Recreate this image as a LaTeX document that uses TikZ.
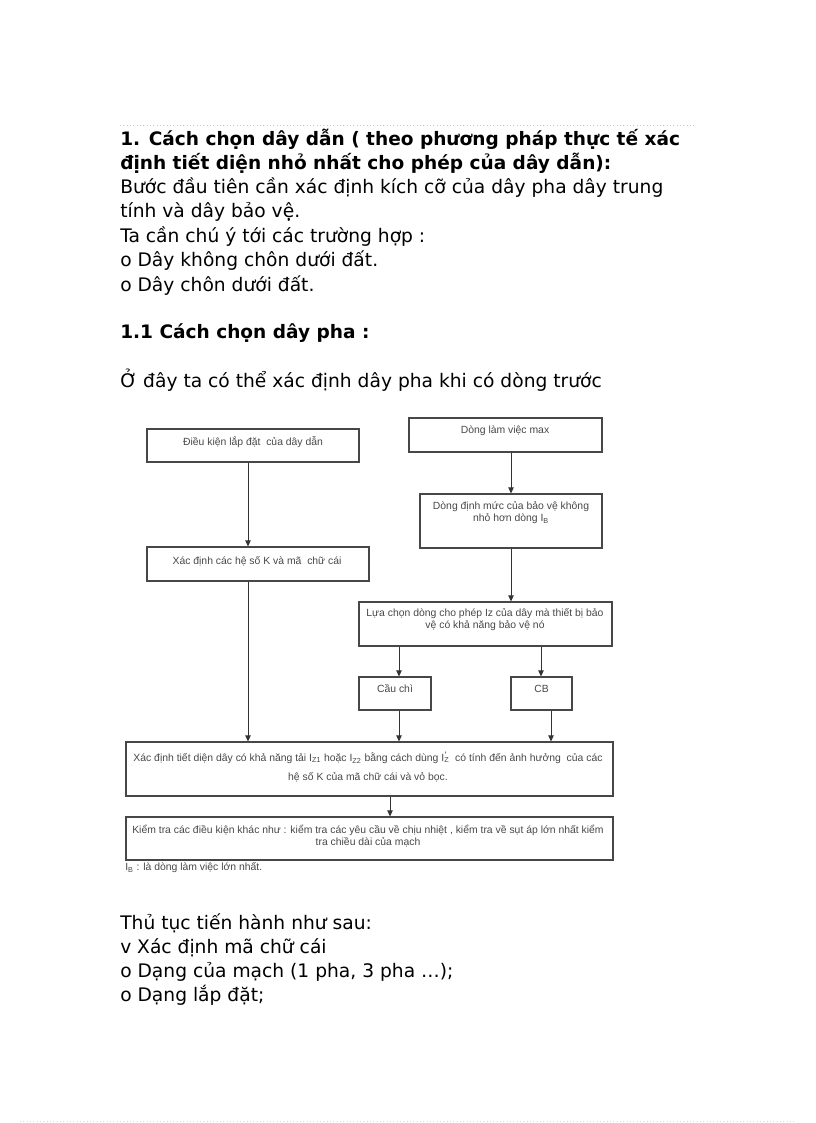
\documentclass[tikz,border=0pt]{standalone}
\usepackage{fontspec}
\setmainfont{DejaVu Sans}
\newfontfamily\dfont{Liberation Sans}
\usetikzlibrary{arrows.meta}
\begin{document}
\begin{tikzpicture}[x=0.75pt,y=-0.75pt,
  body/.style={anchor=base west,inner sep=0pt,font=\fontsize{14}{18}\selectfont},
  head/.style={anchor=base west,inner sep=0pt,font=\fontsize{13.9}{18}\selectfont\bfseries},
  box/.style={draw=black!72,line width=0.8pt,inner sep=0pt},
  dtext/.style={font=\dfont\fontsize{7.8}{9}\selectfont,text=black!72,align=center,inner sep=0pt},
  arr/.style={draw=black!80,line width=0.75pt,-{Triangle[length=4.5pt,width=4pt]}},
  rule/.style={draw=black!22,dotted,line width=0.5pt}
]
\useasboundingbox (0,0) rectangle (816,1123);
\draw[rule] (120,125) -- (695,125);
\draw[rule,draw=black!15] (20,1121) -- (795,1121);

% text above
\node[head] (t1) at (120,146) {1. Cách chọn dây dẫn ( theo phương pháp thực tế xác};
\node[head] (t2) at (120,170) {định tiết diện nhỏ nhất cho phép của dây dẫn):};
\node[body] (t3) at (120,194) {Bước đầu tiên cần xác định kích cỡ của dây pha dây trung};
\node[body] (t4) at (120,218) {tính và dây bảo vệ.};
\node[body] (t5) at (120,243) {Ta cần chú ý tới các trường hợp :};
\node[body] (t6) at (120,267) {o Dây không chôn dưới đất.};
\node[body] (t7) at (120,291) {o Dây chôn dưới đất.};
\node[head] (t8) at (120,338) {1.1 Cách chọn dây pha :};
\node[body] (t9) at (120,387) {Ở đây ta có thể xác định dây pha khi có dòng trước};

% diagram boxes
\node[box,minimum width=159pt,minimum height=24.75pt] (b1) at (253,445.5) {};
\node[dtext] (b1t) at (253,442) {Điều kiện lắp đặt\ \ của dây dẫn};
\node[box,minimum width=144.75pt,minimum height=25.5pt] (b2) at (505.5,435) {};
\node[dtext] (b2t) at (505,431) {Dòng làm việc max};
\node[box,minimum width=136.5pt,minimum height=40.5pt] (b3) at (511,521) {};
\node[dtext] (b3t) at (511,513) {Dòng định mức của bảo vệ không\\nhỏ hơn dòng I\textsubscript{B}};
\node[box,minimum width=166.5pt,minimum height=25.5pt] (b4) at (258,564) {};
\node[dtext] (b4t) at (257,561) {Xác định các hệ số K và mã\ \ chữ cái};
\node[box,minimum width=189.75pt,minimum height=33pt] (b5) at (485.5,624) {};
\node[dtext] (b5t) at (485,620) {Lựa chọn dòng cho phép Iz của dây mà thiết bị bảo\\vệ có khả năng bảo vệ nó};
\node[box,minimum width=54pt,minimum height=24.75pt] (cc) at (395,693.5) {};
\node[dtext] (cct) at (395,689) {Cầu chì};
\node[box,minimum width=45.75pt,minimum height=24.75pt] (cb) at (541.5,693.5) {};
\node[dtext] (cbt) at (541.5,689) {CB};
\node[box,minimum width=365.25pt,minimum height=40.5pt] (b6) at (369.5,769) {};
\node[dtext,font=\dfont\fontsize{7.8}{14}\selectfont] (b6t) at (368,767) {Xác định tiết diện dây có khả năng tải I\textsubscript{Z1} hoặc I\textsubscript{Z2} bằng cách dùng I\rlap{\raisebox{0.55ex}{\fontsize{7}{7}\selectfont\kern0.5pt'}}\textsubscript{Z}\ \ có tính đến ảnh hưởng\ \ của các\\hệ số K của mã chữ cái và vỏ bọc.};
\node[box,minimum width=365.25pt,minimum height=32.25pt] (b7) at (369.5,838.5) {};
\node[dtext] (b7t) at (368,836) {Kiểm tra các điều kiện khác như : kiểm tra các yêu cầu về chịu nhiệt , kiểm tra về sụt áp lớn nhất kiểm\\tra chiều dài của mạch};
\node[dtext,anchor=west] (fn) at (125,868) {I\textsubscript{B} : là dòng làm việc lớn nhất.};

% arrow columns
\coordinate (cL) at (248,0);
\coordinate (cR) at (511,0);
\coordinate (cC) at (399,0);
\coordinate (cB) at (541,0);
\coordinate (cB2) at (551,0);
\coordinate (cM) at (390,0);
\draw[arr] (b1.south -| cL) -- (b4.north -| cL);
\draw[arr] (b4.south -| cL) -- (b6.north -| cL);
\draw[arr] (b2.south -| cR) -- (b3.north -| cR);
\draw[arr] (b3.south -| cR) -- (b5.north -| cR);
\draw[arr] (b5.south -| cC) -- (cc.north -| cC);
\draw[arr] (b5.south -| cB) -- (cb.north -| cB);
\draw[arr] (cc.south -| cC) -- (b6.north -| cC);
\draw[arr] (cb.south -| cB2) -- (b6.north -| cB2);
\draw[arr] (b6.south -| cM) -- (b7.north -| cM);

% text below
\node[body] (u1) at (120,929) {Thủ tục tiến hành như sau:};
\node[body] (u2) at (120,953) {v Xác định mã chữ cái};
\node[body] (u3) at (120,977) {o Dạng của mạch (1 pha, 3 pha …);};
\node[body] (u4) at (120,1001) {o Dạng lắp đặt;};
\end{tikzpicture}
\end{document}
